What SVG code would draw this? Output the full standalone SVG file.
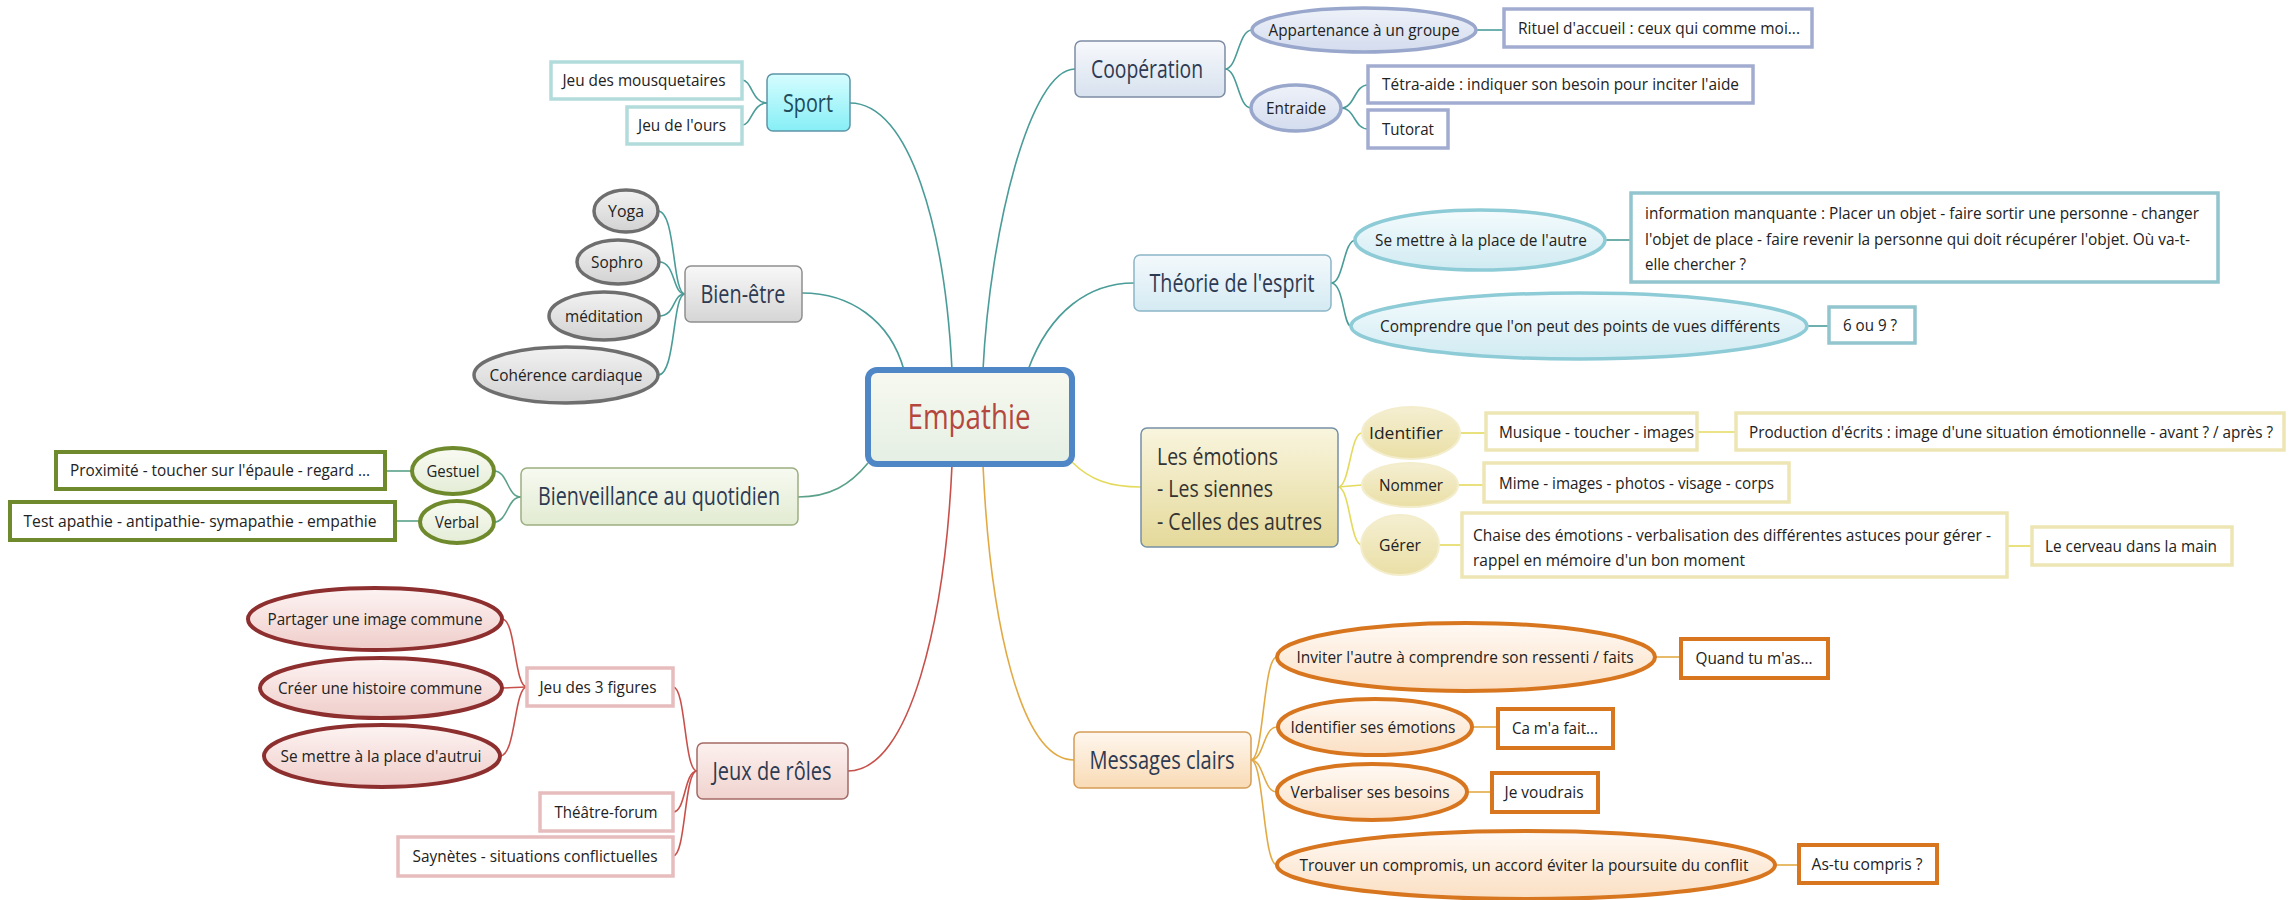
<svg xmlns="http://www.w3.org/2000/svg" width="2292" height="900" viewBox="0 0 2292 900">
<defs>
<linearGradient id="gSport" x1="0" y1="0" x2="0" y2="1"><stop offset="0" stop-color="#d6fdff"/><stop offset="1" stop-color="#86eff6"/></linearGradient>
<linearGradient id="gBien" x1="0" y1="0" x2="0" y2="1"><stop offset="0" stop-color="#f8f8f8"/><stop offset="1" stop-color="#d5d5d5"/></linearGradient>
<linearGradient id="gBienEl" x1="0" y1="0" x2="0" y2="1"><stop offset="0" stop-color="#f2f2f2"/><stop offset="1" stop-color="#d2d2d2"/></linearGradient>
<linearGradient id="gBienv" x1="0" y1="0" x2="0" y2="1"><stop offset="0" stop-color="#f7faf1"/><stop offset="1" stop-color="#e2ebd2"/></linearGradient>
<linearGradient id="gGreenEl" x1="0" y1="0" x2="0" y2="1"><stop offset="0" stop-color="#f9fbf3"/><stop offset="1" stop-color="#e4ecd6"/></linearGradient>
<linearGradient id="gJeux" x1="0" y1="0" x2="0" y2="1"><stop offset="0" stop-color="#fcf1ef"/><stop offset="1" stop-color="#f0d3cf"/></linearGradient>
<linearGradient id="gRedEl" x1="0" y1="0" x2="0" y2="1"><stop offset="0" stop-color="#fdf4f3"/><stop offset="1" stop-color="#efcdca"/></linearGradient>
<linearGradient id="gCoop" x1="0" y1="0" x2="0" y2="1"><stop offset="0" stop-color="#f7f9fc"/><stop offset="1" stop-color="#d7e1ee"/></linearGradient>
<linearGradient id="gCoopEl" x1="0" y1="0" x2="0" y2="1"><stop offset="0" stop-color="#eef2f9"/><stop offset="1" stop-color="#d3dcee"/></linearGradient>
<linearGradient id="gTheo" x1="0" y1="0" x2="0" y2="1"><stop offset="0" stop-color="#f3f9fc"/><stop offset="1" stop-color="#d5eaf3"/></linearGradient>
<linearGradient id="gTheoEl" x1="0" y1="0" x2="0" y2="1"><stop offset="0" stop-color="#f4fbfd"/><stop offset="1" stop-color="#d0ebf2"/></linearGradient>
<linearGradient id="gEmo" x1="0" y1="0" x2="0" y2="1"><stop offset="0" stop-color="#f9f5de"/><stop offset="1" stop-color="#e4d99a"/></linearGradient>
<linearGradient id="gEmoEl" x1="0" y1="0" x2="0" y2="1"><stop offset="0" stop-color="#f5efd2"/><stop offset="1" stop-color="#eadfa6"/></linearGradient>
<linearGradient id="gMsg" x1="0" y1="0" x2="0" y2="1"><stop offset="0" stop-color="#fef7ee"/><stop offset="1" stop-color="#f9dbb5"/></linearGradient>
<linearGradient id="gMsgEl" x1="0" y1="0" x2="0" y2="1"><stop offset="0" stop-color="#fffaf5"/><stop offset="1" stop-color="#fbdfc3"/></linearGradient>
<linearGradient id="gCentral" x1="0" y1="0" x2="0" y2="1"><stop offset="0" stop-color="#f7f9ef"/><stop offset="1" stop-color="#e5efe4"/></linearGradient>
</defs>
<style>
text{font-family:"Open Sans","Liberation Sans",sans-serif;font-size:17px;fill:#222;text-anchor:middle}
.l{text-anchor:start}
.m{font-size:25px;fill:#2e3a52}
.c{fill:none;stroke-width:1.6}
.teal{stroke:#4a9c98}
.grn{stroke:#5aa08a}
.red{stroke:#c8504a}
.yel{stroke:#e4da5c}
.org{stroke:#e2aa45}
.box{fill:#fff}
</style>
<rect width="2292" height="900" fill="#fff"/>

<g id="connectors">
<path class="c teal" d="M904,370 C890,320 850,293 802,293"/>
<path class="c teal" d="M952,370 C945,230 910,103 850,103"/>
<path class="c teal" d="M983,370 C990,230 1030,69 1075,69"/>
<path class="c teal" d="M1028,370 C1050,310 1090,283 1134,283"/>
<path class="c grn" d="M868,463 C850,485 830,497 798,497"/>
<path class="c red" d="M952,465 C945,620 910,771 848,771"/>
<path class="c org" d="M983,465 C990,620 1020,760 1074,760"/>
<path class="c yel" d="M1072,462 C1090,480 1110,487 1141,487"/>
<path class="c teal" d="M767,103 C752,103 752,80 742,80"/>
<path class="c teal" d="M767,103 C752,103 752,125 742,125"/>
<path class="c teal" d="M685,294 C672,294 676,211 658,211"/>
<path class="c teal" d="M685,294 C672,294 676,262 659,262"/>
<path class="c teal" d="M685,294 C672,294 676,316 659,316"/>
<path class="c teal" d="M685,294 C672,294 676,375 658,375"/>
<path class="c grn" d="M521,497 C507,497 508,471 494,471"/>
<path class="c grn" d="M521,497 C507,497 508,522 494,522"/>
<path class="c grn" d="M385,471 L412,471"/>
<path class="c grn" d="M395,521 L420,521"/>
<path class="c red" d="M697,771 C684,771 686,687 673,687"/>
<path class="c red" d="M697,771 C684,771 686,812 673,812"/>
<path class="c red" d="M697,771 C684,771 686,856 673,856"/>
<path class="c red" d="M527,687 C514,687 516,619 502,619"/>
<path class="c red" d="M527,687 L502,688"/>
<path class="c red" d="M527,687 C514,687 516,756 500,756"/>
<path class="c teal" d="M1225,69 C1238,69 1238,30 1252,30"/>
<path class="c teal" d="M1225,69 C1238,69 1238,108 1251,108"/>
<path class="c teal" d="M1476,30 L1504,30"/>
<path class="c teal" d="M1341,108 C1355,108 1354,85 1368,85"/>
<path class="c teal" d="M1341,108 C1355,108 1354,129 1368,129"/>
<path class="c teal" d="M1331,283 C1344,283 1343,240 1356,240"/>
<path class="c teal" d="M1331,283 C1344,283 1343,326 1351,326"/>
<path class="c teal" d="M1605,240 L1631,240"/>
<path class="c teal" d="M1807,326 L1829,326"/>
<path class="c yel" d="M1338,487 C1350,487 1350,433 1362,433"/>
<path class="c yel" d="M1338,487 L1362,485"/>
<path class="c yel" d="M1338,487 C1350,487 1350,545 1362,545"/>
<path class="c yel" d="M1460,433 L1486,433"/>
<path class="c yel" d="M1697,432 L1736,432"/>
<path class="c yel" d="M1458,485 L1484,485"/>
<path class="c yel" d="M1439,545 L1462,545"/>
<path class="c yel" d="M2007,546 L2032,546"/>
<path class="c org" d="M1251,760 C1264,760 1263,657 1277,657"/>
<path class="c org" d="M1251,760 C1264,760 1263,727 1277,727"/>
<path class="c org" d="M1251,760 C1264,760 1263,792 1277,792"/>
<path class="c org" d="M1251,760 C1264,760 1263,865 1277,865"/>
<path class="c org" d="M1655,657 L1681,657"/>
<path class="c org" d="M1472,727 L1498,727"/>
<path class="c org" d="M1467,792 L1492,792"/>
<path class="c org" d="M1775,865 L1799,865"/>
</g>

<g id="central">
<rect x="868" y="370" width="204" height="94" rx="9" fill="url(#gCentral)" stroke="#4f86c6" stroke-width="6"/>
<text x="969" y="429" style="font-size:34px;fill:#b5483e" textLength="123" lengthAdjust="spacingAndGlyphs">Empathie</text>
</g>

<g id="sport">
<rect x="767" y="74" width="83" height="57" rx="6" fill="url(#gSport)" stroke="#5d95a6" stroke-width="1.5"/>
<text class="m" x="808" y="112" style="fill:#1f4c5a" textLength="50" lengthAdjust="spacingAndGlyphs">Sport</text>
</g>
<g id="mousquetaires">
<rect class="box" x="551" y="62" width="191" height="37" stroke="#b2dcdc" stroke-width="3.5"/>
<text x="644" y="86" textLength="163" lengthAdjust="spacingAndGlyphs">Jeu des mousquetaires</text>
</g>
<g id="ours">
<rect class="box" x="627" y="107" width="115" height="37" stroke="#b2dcdc" stroke-width="3.5"/>
<text x="682" y="131" textLength="88" lengthAdjust="spacingAndGlyphs">Jeu de l'ours</text>
</g>

<g id="bienetre">
<rect x="685" y="266" width="117" height="56" rx="6" fill="url(#gBien)" stroke="#8f8f8f" stroke-width="1.5"/>
<text class="m" x="743" y="303" textLength="85" lengthAdjust="spacingAndGlyphs">Bien-être</text>
</g>
<g id="yoga">
<ellipse cx="626" cy="211" rx="32" ry="21" fill="url(#gBienEl)" stroke="#6e6e6e" stroke-width="3.5"/>
<text x="626" y="217" textLength="36" lengthAdjust="spacingAndGlyphs">Yoga</text>
</g>
<g id="sophro">
<ellipse cx="618" cy="262" rx="41" ry="22" fill="url(#gBienEl)" stroke="#6e6e6e" stroke-width="3.5"/>
<text x="617" y="268" textLength="52" lengthAdjust="spacingAndGlyphs">Sophro</text>
</g>
<g id="meditation">
<ellipse cx="604" cy="316" rx="55" ry="24" fill="url(#gBienEl)" stroke="#6e6e6e" stroke-width="3.5"/>
<text x="604" y="322" textLength="78" lengthAdjust="spacingAndGlyphs">méditation</text>
</g>
<g id="coherence">
<ellipse cx="566" cy="375" rx="92" ry="28" fill="url(#gBienEl)" stroke="#6e6e6e" stroke-width="3.5"/>
<text x="566" y="381" textLength="153" lengthAdjust="spacingAndGlyphs">Cohérence cardiaque</text>
</g>

<g id="bienveillance">
<rect x="521" y="468" width="277" height="57" rx="6" fill="url(#gBienv)" stroke="#9cae80" stroke-width="1.5"/>
<text class="m" x="659" y="505" textLength="242" lengthAdjust="spacingAndGlyphs">Bienveillance au quotidien</text>
</g>
<g id="gestuel">
<ellipse cx="453" cy="471" rx="41" ry="23" fill="url(#gGreenEl)" stroke="#6f8a2c" stroke-width="4"/>
<text x="453" y="477" textLength="53" lengthAdjust="spacingAndGlyphs">Gestuel</text>
</g>
<g id="verbal">
<ellipse cx="457" cy="522" rx="37" ry="21" fill="url(#gGreenEl)" stroke="#6f8a2c" stroke-width="4"/>
<text x="457" y="528" textLength="44" lengthAdjust="spacingAndGlyphs">Verbal</text>
</g>
<g id="proximite">
<rect class="box" x="56" y="452" width="329" height="37" stroke="#6f8a2c" stroke-width="4"/>
<text x="220" y="476" textLength="300" lengthAdjust="spacingAndGlyphs">Proximité - toucher sur l'épaule - regard ...</text>
</g>
<g id="test">
<rect class="box" x="10" y="502" width="385" height="38" stroke="#6f8a2c" stroke-width="4"/>
<text x="200" y="527" textLength="353" lengthAdjust="spacingAndGlyphs">Test  apathie - antipathie- symapathie - empathie</text>
</g>

<g id="jeuxroles">
<rect x="697" y="743" width="151" height="56" rx="6" fill="url(#gJeux)" stroke="#a36a66" stroke-width="1.5"/>
<text class="m" x="772" y="780" textLength="119" lengthAdjust="spacingAndGlyphs">Jeux de rôles</text>
</g>
<g id="jeu3figures">
<rect class="box" x="527" y="668" width="146" height="38" stroke="#e6bcbc" stroke-width="3.5"/>
<text x="598" y="693" textLength="117" lengthAdjust="spacingAndGlyphs">Jeu des 3 figures</text>
</g>
<g id="theatre">
<rect class="box" x="540" y="793" width="133" height="38" stroke="#e6bcbc" stroke-width="3.5"/>
<text x="606" y="818" textLength="103" lengthAdjust="spacingAndGlyphs">Théâtre-forum</text>
</g>
<g id="saynetes">
<rect class="box" x="398" y="837" width="275" height="39" stroke="#e6bcbc" stroke-width="3.5"/>
<text x="535" y="862" textLength="245" lengthAdjust="spacingAndGlyphs">Saynètes - situations conflictuelles</text>
</g>
<g id="partager">
<ellipse cx="375" cy="619" rx="127" ry="31" fill="url(#gRedEl)" stroke="#8e2f2f" stroke-width="4"/>
<text x="375" y="625" textLength="215" lengthAdjust="spacingAndGlyphs">Partager une image commune</text>
</g>
<g id="creer">
<ellipse cx="381" cy="688" rx="121" ry="30" fill="url(#gRedEl)" stroke="#8e2f2f" stroke-width="4"/>
<text x="380" y="694" textLength="204" lengthAdjust="spacingAndGlyphs">Créer une histoire commune</text>
</g>
<g id="autrui">
<ellipse cx="382" cy="756" rx="118" ry="31" fill="url(#gRedEl)" stroke="#8e2f2f" stroke-width="4"/>
<text x="381" y="762" textLength="201" lengthAdjust="spacingAndGlyphs">Se mettre à la place d'autrui</text>
</g>

<g id="cooperation">
<rect x="1075" y="41" width="150" height="56" rx="6" fill="url(#gCoop)" stroke="#7d8ca4" stroke-width="1.5"/>
<text class="m" x="1147" y="78" textLength="112" lengthAdjust="spacingAndGlyphs">Coopération</text>
</g>
<g id="appartenance">
<ellipse cx="1364" cy="30" rx="112" ry="22" fill="url(#gCoopEl)" stroke="#98a7cb" stroke-width="3.5"/>
<text x="1364" y="36" textLength="191" lengthAdjust="spacingAndGlyphs">Appartenance à un groupe</text>
</g>
<g id="rituel">
<rect class="box" x="1504" y="9" width="308" height="38" stroke="#a2acd0" stroke-width="3.5"/>
<text class="l" x="1518" y="34" textLength="282" lengthAdjust="spacingAndGlyphs">Rituel d'accueil : ceux qui comme moi...</text>
</g>
<g id="entraide">
<ellipse cx="1296" cy="108" rx="45" ry="23" fill="url(#gCoopEl)" stroke="#98a7cb" stroke-width="3.5"/>
<text x="1296" y="114" textLength="60" lengthAdjust="spacingAndGlyphs">Entraide</text>
</g>
<g id="tetra">
<rect class="box" x="1368" y="66" width="385" height="37" stroke="#a2acd0" stroke-width="3.5"/>
<text class="l" x="1382" y="90" textLength="357" lengthAdjust="spacingAndGlyphs">Tétra-aide : indiquer son besoin pour inciter l'aide</text>
</g>
<g id="tutorat">
<rect class="box" x="1368" y="110" width="80" height="38" stroke="#a2acd0" stroke-width="3.5"/>
<text class="l" x="1382" y="135" textLength="52" lengthAdjust="spacingAndGlyphs">Tutorat</text>
</g>

<g id="theorie">
<rect x="1134" y="255" width="197" height="56" rx="6" fill="url(#gTheo)" stroke="#8cb5c6" stroke-width="1.5"/>
<text class="m" x="1232" y="292" textLength="165" lengthAdjust="spacingAndGlyphs">Théorie de l'esprit</text>
</g>
<g id="semettre">
<ellipse cx="1480" cy="240" rx="125" ry="30" fill="url(#gTheoEl)" stroke="#8dcbd6" stroke-width="3.5"/>
<text x="1481" y="246" textLength="212" lengthAdjust="spacingAndGlyphs">Se mettre à la place de l'autre</text>
</g>
<g id="information">
<rect class="box" x="1631" y="193" width="587" height="89" stroke="#92c5ce" stroke-width="3.5"/>
<text class="l" x="1645" y="219" textLength="554" lengthAdjust="spacingAndGlyphs">information manquante : Placer un objet - faire sortir une personne - changer</text>
<text class="l" x="1645" y="245" textLength="545" lengthAdjust="spacingAndGlyphs">l'objet de place - faire revenir la personne qui doit récupérer l'objet. Où va-t-</text>
<text class="l" x="1645" y="270" textLength="101" lengthAdjust="spacingAndGlyphs">elle chercher ?</text>
</g>
<g id="comprendre">
<ellipse cx="1579" cy="326" rx="228" ry="33" fill="url(#gTheoEl)" stroke="#8dcbd6" stroke-width="3.5"/>
<text x="1580" y="332" textLength="400" lengthAdjust="spacingAndGlyphs">Comprendre que l'on peut des points de vues différents</text>
</g>
<g id="sixneuf">
<rect class="box" x="1829" y="307" width="86" height="36" stroke="#92c5ce" stroke-width="3.5"/>
<text x="1870" y="331" textLength="54" lengthAdjust="spacingAndGlyphs">6 ou 9 ?</text>
</g>

<g id="emotions">
<rect x="1141" y="428" width="197" height="119" rx="6" fill="url(#gEmo)" stroke="#7690a6" stroke-width="1.5"/>
<text class="l" x="1157" y="465" style="font-size:24px;fill:#333" textLength="121" lengthAdjust="spacingAndGlyphs">Les émotions</text>
<text class="l" x="1157" y="497" style="font-size:24px;fill:#333" textLength="116" lengthAdjust="spacingAndGlyphs">- Les siennes</text>
<text class="l" x="1157" y="530" style="font-size:24px;fill:#333" textLength="165" lengthAdjust="spacingAndGlyphs">- Celles des autres</text>
</g>
<g id="identifier">
<ellipse cx="1411" cy="433" rx="49" ry="26" fill="url(#gEmoEl)" stroke="#f3edcc" stroke-width="2"/>
<text x="1406" y="439" textLength="74" lengthAdjust="spacingAndGlyphs">Identifier</text>
</g>
<g id="nommer">
<ellipse cx="1410" cy="485" rx="48" ry="22" fill="url(#gEmoEl)" stroke="#f3edcc" stroke-width="2"/>
<text x="1411" y="491" textLength="64" lengthAdjust="spacingAndGlyphs">Nommer</text>
</g>
<g id="gerer">
<ellipse cx="1400" cy="545" rx="39" ry="30" fill="url(#gEmoEl)" stroke="#f3edcc" stroke-width="2"/>
<text x="1400" y="551" textLength="42" lengthAdjust="spacingAndGlyphs">Gérer</text>
</g>
<g id="musique">
<rect class="box" x="1486" y="413" width="211" height="37" stroke="#ede6b4" stroke-width="3.5"/>
<text class="l" x="1499" y="438" textLength="195" lengthAdjust="spacingAndGlyphs">Musique - toucher - images</text>
</g>
<g id="production">
<rect class="box" x="1736" y="413" width="548" height="37" stroke="#ede6b4" stroke-width="3.5"/>
<text class="l" x="1749" y="438" textLength="524" lengthAdjust="spacingAndGlyphs">Production d'écrits : image d'une situation émotionnelle - avant ? / après ?</text>
</g>
<g id="mime">
<rect class="box" x="1484" y="463" width="305" height="39" stroke="#ede6b4" stroke-width="3.5"/>
<text class="l" x="1499" y="489" textLength="275" lengthAdjust="spacingAndGlyphs">Mime - images - photos - visage - corps</text>
</g>
<g id="chaise">
<rect class="box" x="1462" y="513" width="545" height="64" stroke="#ede6b4" stroke-width="3.5"/>
<text class="l" x="1473" y="541" textLength="518" lengthAdjust="spacingAndGlyphs">Chaise des émotions - verbalisation des différentes astuces pour gérer -</text>
<text class="l" x="1473" y="566" textLength="272" lengthAdjust="spacingAndGlyphs">rappel en mémoire d'un bon moment</text>
</g>
<g id="cerveau">
<rect class="box" x="2032" y="527" width="200" height="38" stroke="#ede6b4" stroke-width="3.5"/>
<text x="2131" y="552" textLength="172" lengthAdjust="spacingAndGlyphs">Le cerveau dans la main</text>
</g>

<g id="messages">
<rect x="1074" y="732" width="177" height="56" rx="6" fill="url(#gMsg)" stroke="#d59c55" stroke-width="1.5"/>
<text class="m" x="1162" y="769" textLength="145" lengthAdjust="spacingAndGlyphs">Messages clairs</text>
</g>
<g id="inviter">
<ellipse cx="1466" cy="657" rx="189" ry="34" fill="url(#gMsgEl)" stroke="#d7761f" stroke-width="4"/>
<text x="1465" y="663" textLength="337" lengthAdjust="spacingAndGlyphs">Inviter l'autre à comprendre son ressenti / faits</text>
</g>
<g id="quand">
<rect class="box" x="1681" y="639" width="147" height="39" stroke="#d7761f" stroke-width="4"/>
<text x="1754" y="664" textLength="117" lengthAdjust="spacingAndGlyphs">Quand tu m'as...</text>
</g>
<g id="identses">
<ellipse cx="1375" cy="727" rx="97" ry="28" fill="url(#gMsgEl)" stroke="#d7761f" stroke-width="4"/>
<text x="1373" y="733" textLength="165" lengthAdjust="spacingAndGlyphs">Identifier ses émotions</text>
</g>
<g id="camafait">
<rect class="box" x="1498" y="709" width="115" height="39" stroke="#d7761f" stroke-width="4"/>
<text x="1555" y="734" textLength="86" lengthAdjust="spacingAndGlyphs">Ca m'a fait...</text>
</g>
<g id="verbaliser">
<ellipse cx="1372" cy="792" rx="95" ry="28" fill="url(#gMsgEl)" stroke="#d7761f" stroke-width="4"/>
<text x="1370" y="798" textLength="159" lengthAdjust="spacingAndGlyphs">Verbaliser ses besoins</text>
</g>
<g id="jevoudrais">
<rect class="box" x="1492" y="773" width="106" height="39" stroke="#d7761f" stroke-width="4"/>
<text x="1544" y="798" textLength="79" lengthAdjust="spacingAndGlyphs">Je voudrais</text>
</g>
<g id="trouver">
<ellipse cx="1526" cy="865" rx="249" ry="34" fill="url(#gMsgEl)" stroke="#d7761f" stroke-width="4"/>
<text x="1524" y="871" textLength="449" lengthAdjust="spacingAndGlyphs">Trouver un compromis, un accord éviter la poursuite du conflit</text>
</g>
<g id="astu">
<rect class="box" x="1799" y="845" width="138" height="38" stroke="#d7761f" stroke-width="4"/>
<text x="1867" y="870" textLength="111" lengthAdjust="spacingAndGlyphs">As-tu compris ?</text>
</g>
</svg>
